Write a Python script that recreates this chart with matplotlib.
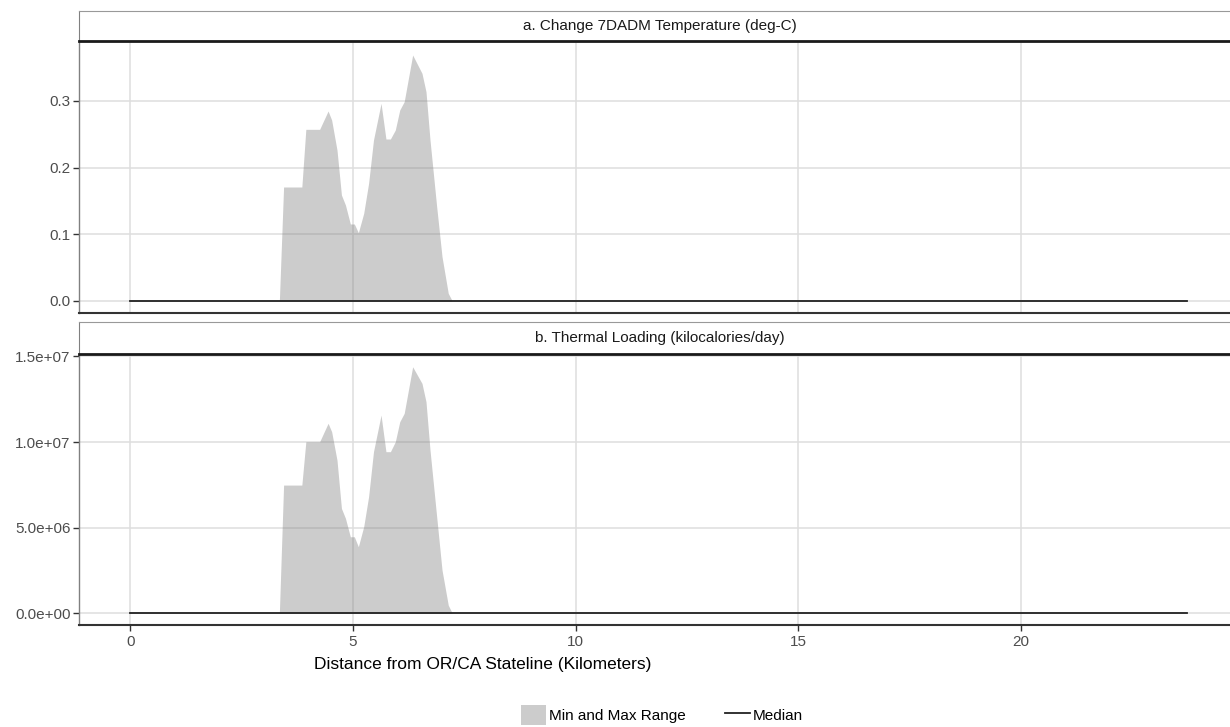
import matplotlib
matplotlib.use("Agg")
import matplotlib.pyplot as plt
from matplotlib.patches import Patch
from matplotlib.lines import Line2D

plt.rcParams['font.family'] = ['Liberation Sans', 'DejaVu Sans']

# Distance downstream of the OR/CA stateline (km)
distance_km = [0.0, 3.345, 3.44, 3.85, 3.94, 4.25, 4.44, 4.52, 4.64, 4.74, 4.83,
               4.94, 5.03, 5.12, 5.24, 5.35, 5.46, 5.63, 5.74, 5.84, 5.95,
               6.05, 6.15, 6.34, 6.55, 6.64, 6.73, 6.88, 7.00, 7.14, 7.23, 23.75]

# a. Change in 7DADM temperature (deg-C): max of range (min is 0)
temp_max = [0.0, 0.0, 0.171, 0.171, 0.2575, 0.2575, 0.285, 0.2715, 0.2265, 0.159, 0.144,
            0.1155, 0.1155, 0.1025, 0.1315, 0.1765, 0.2415, 0.2965, 0.243, 0.243, 0.2565,
            0.2865, 0.299, 0.369, 0.3415, 0.314, 0.2415, 0.1415, 0.0665, 0.0115, 0.0, 0.0]
temp_min = [0.0] * len(distance_km)
temp_median = [0.0] * len(distance_km)

# b. Thermal loading (kilocalories/day): max of range (min is 0)
load_max = [0.0, 0.0, 7.49e6, 7.49e6, 1.002e7, 1.002e7, 1.110e7, 1.061e7, 8.95e6, 6.13e6, 5.55e6,
            4.47e6, 4.47e6, 3.89e6, 5.06e6, 6.81e6, 9.44e6, 1.158e7, 9.44e6, 9.44e6, 1.002e7,
            1.119e7, 1.168e7, 1.440e7, 1.343e7, 1.236e7, 9.54e6, 5.64e6, 2.53e6, 4.8e5, 0.0, 0.0]
load_min = [0.0] * len(distance_km)
load_median = [0.0] * len(distance_km)

x_ticks = [0, 5, 10, 15, 20]
temp_ticks = [0.0, 0.1, 0.2, 0.3]
temp_labels = ["0.0", "0.1", "0.2", "0.3"]
load_ticks = [0, 5e6, 1e7, 1.5e7]
load_labels = ["0.0e+00", "5.0e+06", "1.0e+07", "1.5e+07"]
strip_titles = ["a. Change 7DADM Temperature (deg-C)", "b. Thermal Loading (kilocalories/day)"]

W, H = 1230, 727
fig = plt.figure(figsize=(W / 100, H / 100), dpi=100)

def fx(px):
    return px / W

def fy(py):
    return 1 - py / H

left_px, right_px = 79, 1240
xlim = (-1.157, 24.93)

GRID = '#DEDEDE'
FILL = '#808080'
TICKC = '#4D4D4D'


def panel(top_px, bottom_px, strip_top_px, ymin_v, ymax_v, ylim, yticks, ylabels,
          title, show_x):
    ax = fig.add_axes([fx(left_px), fy(bottom_px), fx(right_px - left_px),
                       (bottom_px - top_px) / H])
    ax.set_xlim(*xlim)
    ax.set_ylim(*ylim)
    ax.set_xticks(x_ticks)
    ax.set_yticks(yticks)
    ax.set_yticklabels(ylabels)
    ax.grid(True, color=GRID, lw=1.1, zorder=0)
    ax.set_axisbelow(True)
    ax.fill_between(distance_km, ymin_v, ymax_v, color=FILL, alpha=0.4, lw=0, zorder=2)
    ax.plot(distance_km, [0.0] * len(distance_km), color='#222222', lw=1.3, zorder=3)
    for s in ['top', 'right']:
        ax.spines[s].set_visible(False)
    ax.spines['left'].set_color('#808080')
    ax.spines['left'].set_linewidth(1.0)
    ax.spines['bottom'].set_color('#333333')
    ax.spines['bottom'].set_linewidth(1.5)
    ax.tick_params(axis='y', length=4, width=1, color='#333333', labelcolor=TICKC,
                   labelsize=11, pad=2)
    if show_x:
        ax.tick_params(axis='x', length=4, width=1, color='#333333', labelcolor=TICKC,
                       labelsize=11, pad=3)
    else:
        ax.tick_params(axis='x', length=0, labelbottom=False)
    # facet strip
    sax = fig.add_axes([fx(left_px), fy(top_px), fx(right_px - left_px),
                        (top_px - strip_top_px) / H])
    sax.set_xticks([])
    sax.set_yticks([])
    sax.set_facecolor('white')
    sax.spines['right'].set_visible(False)
    sax.spines['top'].set_color('#999999')
    sax.spines['left'].set_color('#808080')
    sax.spines['bottom'].set_color('#1A1A1A')
    sax.spines['bottom'].set_linewidth(2.0)
    sax.text((660 - left_px) / (right_px - left_px), 0.5, title, transform=sax.transAxes,
             ha='center', va='center', fontsize=11, color='#1A1A1A')
    return ax


ax_a = panel(41, 313, 10.7, temp_min, temp_max, (-0.018, 0.39), temp_ticks, temp_labels,
             strip_titles[0], False)
ax_b = panel(354, 625, 322, load_min, load_max, (-6.83e5, 1.5146e7), load_ticks, load_labels,
             strip_titles[1], True)

fig.text(fx(483), fy(664), "Distance from OR/CA Stateline (Kilometers)", ha='center',
         va='center', fontsize=12.5, color='#000000')

handles = [Patch(facecolor=FILL, alpha=0.4, edgecolor='none', label='Min and Max Range'),
           Line2D([], [], color='#222222', lw=1.3, label='Median')]
fig.legend(handles=handles, loc='center', bbox_to_anchor=(fx(662), fy(715)), ncol=2,
           frameon=False, fontsize=11, handlelength=1.6, handleheight=1.6,
           handletextpad=0.2, columnspacing=2.6)

fig.savefig('out.png', dpi=100)
